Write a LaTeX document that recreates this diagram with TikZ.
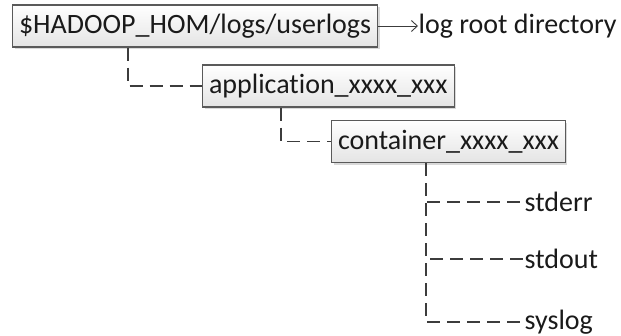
\documentclass[tikz,border=0pt]{standalone}
\usepackage{fontspec}
\setmainfont{Carlito}[Ligatures=NoCommon]
\usetikzlibrary{arrows.meta,shadows}
\definecolor{Ink}{HTML}{1A1A1A}
\definecolor{Frame}{HTML}{5A5A5A}
\definecolor{Wire}{HTML}{3C3C3C}
\definecolor{Shade}{HTML}{E4E4E4}

\begin{document}
\begin{tikzpicture}[x=1pt,y=-1pt,
    dirbox/.style={draw=Frame,line width=1.1pt,top color=white,bottom color=Shade,
      anchor=west,inner xsep=6.5pt,minimum height=42pt,text=Ink,
      font=\fontsize{28}{32}\selectfont,
      drop shadow={shadow xshift=2pt,shadow yshift=-2pt,fill=black,opacity=.15}},
    leaf/.style={anchor=west,inner xsep=0.5pt,text=Ink,font=\fontsize{28}{32}\selectfont},
    branch/.style={draw=Wire,line width=1.2pt,dash pattern=on 13pt off 7pt},
    pointer/.style={draw=Wire,line width=0.9pt,-{Straight Barb[length=6pt,width=11pt]}}]
      \useasboundingbox (0,0) rectangle (621,335);

      % directory boxes
      \node[dirbox] (root) at (12,26) {\$HADOOP\_HOM/logs/userlogs};
      \node[dirbox] (app) at (202,86) {application\_xxxx\_xxx};
      \node[dirbox] (cont) at (331,141.5) {container\_xxxx\_xxx};

      % note on the root
      \node[leaf] (note) at (418,26) {log root directory};
      \draw[pointer] (root.east) -- (note.west);

      % log files
      \node[leaf] (err) at (524,202) {stderr};
      \node[leaf] (out) at (524,259) {stdout};
      \node[leaf] (sys) at (524,322) {syslog};

      % tree branches
      \draw[branch] (root.south west) ++(116,0) |- (app.west);
      \draw[branch] (app.south west) ++(79,0) |- (cont.west);
      \draw[branch] (cont.south west) ++(95,0) |- (err.west);
      \draw[branch] (cont.south west) ++(95,0) |- (out.west);
      \draw[branch] (cont.south west) ++(95,0) |- (sys.west);
    \end{tikzpicture}
\end{document}
